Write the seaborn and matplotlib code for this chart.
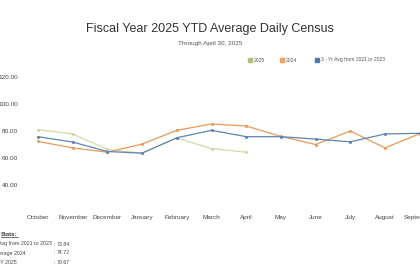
import matplotlib
matplotlib.use("Agg")
import matplotlib.pyplot as plt
import seaborn as sns
import pandas as pd

months = ["October", "November", "December", "January", "February", "March",
          "April", "May", "June", "July", "August", "September"]
fy2025 = [81.0, 77.8, 66.3, 63.6, 74.8, 67.0, 64.3]
fy2024 = [72.3, 67.5, 64.3, 70.3, 80.5, 85.2, 83.7, 76.0, 70.0, 80.0, 67.5, 78.0]
avg3yr = [75.8, 71.8, 64.8, 63.6, 75.0, 80.5, 75.8, 75.8, 74.0, 72.0, 77.8, 78.3]
series_names = ["2025", "2024", "3 - Yr Avg from 2021 to 2023"]
yticks = [40, 60, 80, 100, 120]
stats_labels = ["3 - Yr Avg from 2021 to 2023", "Average 2024", "FY 2025"]
stats_values = ["73.84", "74.72", "70.67"]

sns.set_theme(style="white")
plt.rcParams["font.family"] = ["Liberation Sans", "DejaVu Sans"]

colors = {"2025": "#c9cf93", "2024": "#e8995a", "3 - Yr Avg from 2021 to 2023": "#5d84b3"}
legend_colors = {"2025": "#b3bf78", "2024": "#eba35f", "3 - Yr Avg from 2021 to 2023": "#4f78aa"}

rows = []
for name, vals in zip(series_names, [fy2025, fy2024, avg3yr]):
    for i, v in enumerate(vals):
        rows.append({"idx": i, "value": v, "series": name})
df = pd.DataFrame(rows)

fig = plt.figure(figsize=(4.2, 2.8), dpi=100)
W, H = 420, 280
left_px, right_px = 25, 440
top_px, bottom_px = 70, 200
ax = fig.add_axes([left_px / W, 1 - bottom_px / H, (right_px - left_px) / W, (bottom_px - top_px) / H])

for name in series_names:
    sub = df[df["series"] == name]
    sns.lineplot(data=sub, x="idx", y="value", ax=ax, color=colors[name],
                 marker="o", markersize=2.2, markeredgewidth=0, linewidth=0.9,
                 alpha=0.8 if name == "2025" else 1.0, legend=False)

spacing = 34.7
x0 = 38
ax.set_xlim((left_px - x0) / spacing, (right_px - x0) / spacing)
ppu = (185 - 77) / 80
ax.set_ylim(40 - (bottom_px - 185) / ppu, 120 + (77 - top_px) / ppu)
ax.set_xticks(range(len(months)))
ax.set_xticklabels(months, fontsize=4.6, color="#444444")
ax.set_yticks(yticks)
ax.set_yticklabels([f"{v:.2f}" for v in yticks], fontsize=4.6, color="#444444")
ax.tick_params(axis="x", length=0, pad=10.5)
ax.tick_params(axis="y", length=0, pad=5)
ax.set_xlabel("")
ax.set_ylabel("")
for s in ax.spines.values():
    s.set_visible(False)

fig.text(0.5, 1 - 29 / H, "Fiscal Year 2025 YTD Average Daily Census", ha="center", va="center",
         fontsize=9, color="#333333")
fig.text(0.5, 1 - 44 / H, "Through April 30, 2025", ha="center", va="center",
         fontsize=4.6, color="#555555")

leg_items = [("2025", 250), ("2024", 282), ("3 - Yr Avg from 2021 to 2023", 317)]
for name, px in leg_items:
    fig.patches.append(plt.Rectangle(((px - 2) / W, 1 - 62 / H), 4 / W, 4 / H,
                                     transform=fig.transFigure, color=legend_colors[name]))
    fig.text((px + 4) / W, 1 - 60 / H, name, ha="left", va="center", fontsize=3.6, color="#555555")

fig.text(1 / W, 1 - 234 / H, "Stats:", ha="left", va="center", fontsize=4.2,
         color="#333333", fontweight="bold")
fig.add_artist(plt.Line2D([1 / W, 18 / W], [1 - 237 / H, 1 - 237 / H], color="#333333", linewidth=0.5))
offsets = [-16, -7, -3]
for i, (lab, val) in enumerate(zip(stats_labels, stats_values)):
    y = 1 - (244 + 9 * i) / H
    fig.text(offsets[i] / W, y, lab, ha="left", va="center", fontsize=3.8, color="#444444")
    fig.text(54 / W, y, ":", ha="left", va="center", fontsize=3.8, color="#444444")
    fig.text(57 / W, y, val, ha="left", va="center", fontsize=3.8, color="#444444")

fig.savefig("out.png", dpi=100)
